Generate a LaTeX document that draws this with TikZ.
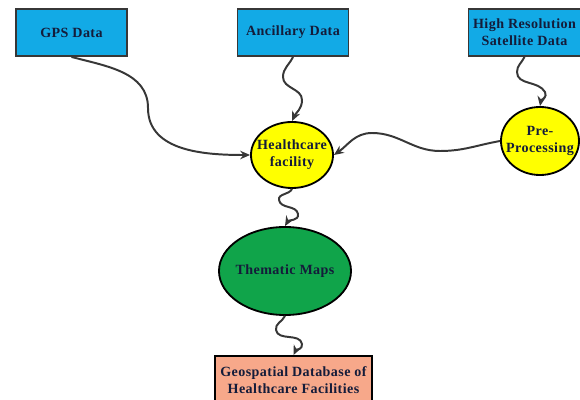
\documentclass[tikz,border=0pt]{standalone}
\usepackage{fontspec}
\setmainfont[LetterSpace=3]{Liberation Serif}
\usepackage{xcolor}
\usetikzlibrary{arrows.meta,shapes.geometric,calc}
\definecolor{boxblue}{RGB}{18,170,230}
\definecolor{hcyellow}{RGB}{255,255,0}
\definecolor{mapgreen}{RGB}{16,164,74}
\definecolor{dbsalmon}{RGB}{247,168,138}
\definecolor{txtdark}{RGB}{20,28,58}
\definecolor{linegray}{RGB}{55,55,55}
\tikzset{
  srcbox/.style={draw=linegray, line width=1.3pt, fill=boxblue, minimum width=2.775cm,
    minimum height=1.175cm, align=center, font=\bfseries, text=txtdark},
  procell/.style={ellipse, draw=black, line width=1.3pt, align=center, inner sep=-6pt,
    font=\bfseries, text=txtdark},
  flow/.style={draw=linegray, line width=1.4pt, -{Stealth[length=7pt,width=6pt]}}
}

\begin{document}
\begin{tikzpicture}[x=0.025cm, y=-0.025cm]
    \useasboundingbox (0,0) rectangle (580,400);
    % sources
    \node[srcbox] (gps) at (71.5,32.5) {GPS Data};
    \node[srcbox] (anc) at (293,32.5) {Ancillary Data};
    \node[srcbox, minimum width=2.7cm] (hires) at (524.5,32.5) {High Resolution\\Satellite Data};
    % processing
    \node[procell, fill=hcyellow, minimum width=2.05cm, minimum height=1.65cm] (hcf) at (292,155) {Healthcare\\facility};
    \node[procell, fill=hcyellow, minimum width=1.95cm, minimum height=1.7cm] (prep) at (540,141) {Pre-\\Processing};
    \node[procell, fill=mapgreen, minimum width=3.3cm, minimum height=2.2cm] (thm) at (285,271) {Thematic Maps};
    \node[srcbox, fill=dbsalmon, draw=black, minimum width=3.925cm, minimum height=1.2cm] (geodb) at (293.5,380) {Geospatial Database of\\Healthcare Facilities};
    % bends
    \coordinate (g1) at (148,108);
    \coordinate (a1) at (283,77);
    \coordinate (a2) at (302,100);
    \coordinate (h1) at (517,72);
    \coordinate (h2) at (545,92);
    \coordinate (c1) at (279,200);
    \coordinate (c2) at (298,214);
    \coordinate (t1) at (276,330);
    \coordinate (t2) at (302,344);
    \coordinate (p1) at (440,151);
    \coordinate (p2) at (372,133);
    % connectors
    \draw[flow] (gps.south) to[out=-15,in=90] (g1) to[out=-90,in=180] (hcf.west);
    \draw[flow] (anc.south) to[out=-115,in=90] (a1) to[out=-90,in=90] (a2) to[out=-90,in=65] (hcf.north);
    \draw[flow] (hires.south) to[out=-115,in=90] (h1) to[out=-90,in=120] (h2) to[out=-60,in=80] (prep.north);
    \draw[flow] (prep.west) to[out=190,in=0] (p1) to[out=180,in=0] (p2) to[out=180,in=35] (hcf.east);
    \draw[flow] (hcf.south) to[out=-115,in=100] (c1) to[out=-80,in=100] (c2) to[out=-80,in=60] (thm.north);
    \draw[flow] (thm.south) to[out=-115,in=100] (t1) to[out=-80,in=100] (t2) to[out=-80,in=65] (geodb.north);
\end{tikzpicture}
\end{document}
